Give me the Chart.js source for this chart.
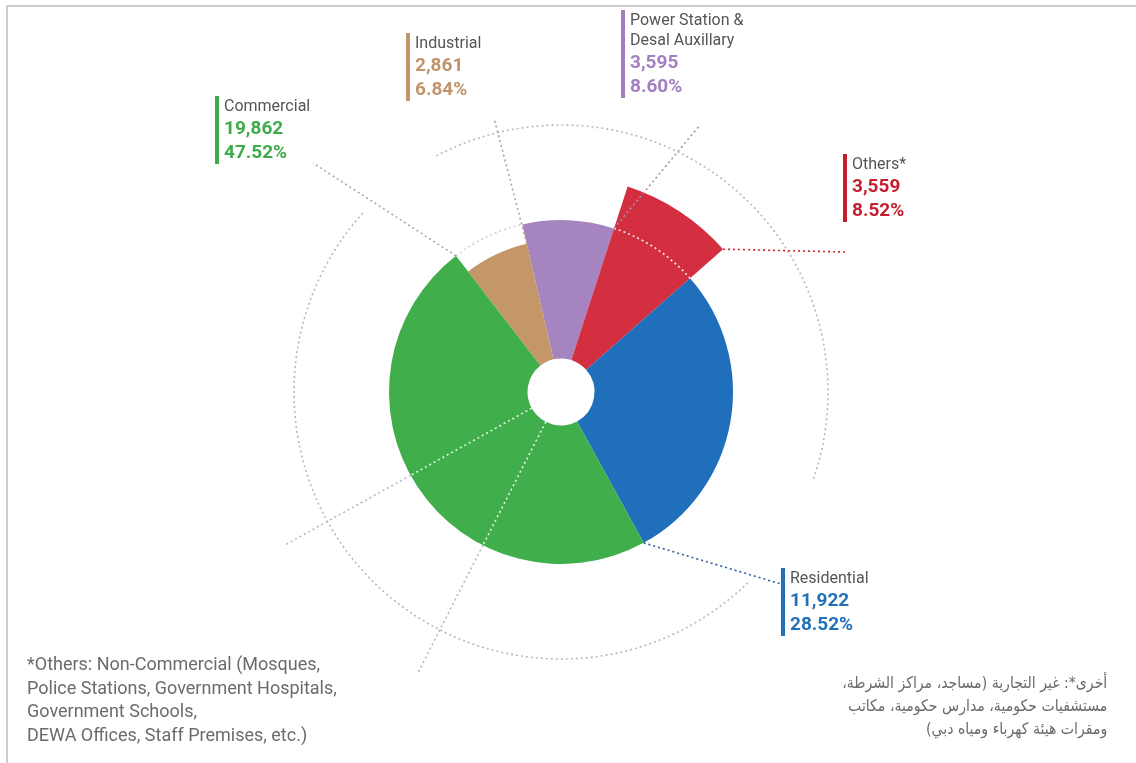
<!DOCTYPE html>
<html>
<head>
<meta charset="utf-8">
<script src="https://cdn.jsdelivr.net/npm/chart.js@4.4.0/dist/chart.umd.min.js"></script>
<style>
  html, body { margin: 0; padding: 0; background: #fff; }
  #wrap { position: relative; width: 1136px; height: 763px; overflow: hidden; }
  #frame { position: absolute; left: 6px; top: 5px; right: -10px; bottom: -10px;
           border-top: 2px solid #cdcdcd; border-left: 2px solid #cdcdcd; }
  canvas { position: absolute; left: 0; top: 0; }
  .lbl { position: absolute; padding-left: 5px; border-left: 4px solid; font-family: Roboto, sans-serif; }
  .lbl .name { font-size: 16px; line-height: 20px; color: #555; white-space: nowrap; }
  .lbl .num { font-size: 19px; line-height: 24px; font-weight: 700; white-space: nowrap; }
  .note-en { position: absolute; left: 27px; top: 652px; font-family: Roboto, sans-serif;
             font-size: 18px; line-height: 23.5px; color: #6b6b6b; }
  .note-ar { position: absolute; right: 29px; top: 671px; font-family: "DejaVu Sans", sans-serif;
             font-size: 16px; line-height: 23px; color: #6b6b6b; text-align: right; direction: rtl;
             transform: scaleX(0.88); transform-origin: right top; }
</style>
</head>
<body>
<div id="wrap">
  <div id="frame"></div>
  <canvas id="chart" width="1136" height="763"></canvas>
  <div id="labels"></div>
  <div class="note-en">*Others: Non-Commercial (Mosques,<br>Police Stations, Government Hospitals,<br>Government Schools,<br>DEWA Offices, Staff Premises, etc.)</div>
  <div class="note-ar" dir="rtl">أخرى*: غير التجارية (مساجد، مراكز الشرطة،<br>مستشفيات حكومية، مدارس حكومية، مكاتب<br>ومقرات هيئة كهرباء ومياه دبي)</div>
</div>
<script>
// ---- data (clockwise from the top) ----
const categories = ['Power Station &\nDesal Auxillary', 'Others*', 'Residential', 'Commercial', 'Industrial'];
const consumption = [3595, 3559, 11922, 19862, 2861];
const shares = [8.60, 8.52, 28.52, 47.52, 6.84];

// ---- styling ----
const sliceColors = ['#a584c0', '#d42f41', '#1f6fba', '#40ae4a', '#c49769'];
const textColors  = ['#a27fc1', '#c41e30', '#2271b8', '#3dac48', '#c0956b'];
const leaderColors = ['#9d93bd', '#c9202f', '#2b5f9e', '#a9a9a9', '#b9a285'];
const sliceReach = [1, 1.256, 1, 1, 0.885];     // outer radius relative to the base ring
const labelBoxes = [[621, 10], [843, 154], [781, 568], [215, 96], [406, 33]];
const leaderEnds = [[700, 125], [845, 252], [781, 584], [313, 163], [494, 118]];

const BASE_R = 172;
const RING_R = 267;
const GRAY = '#b8b8b8';

// labels as html text
const holder = document.getElementById('labels');
categories.forEach((cat, i) => {
  const d = document.createElement('div');
  d.className = 'lbl';
  d.style.left = labelBoxes[i][0] + 'px';
  d.style.top = labelBoxes[i][1] + 'px';
  d.style.borderColor = textColors[i];
  d.innerHTML =
    cat.split('\n').map(s => `<div class="name">${s.replace('&', '&amp;')}</div>`).join('') +
    `<div class="num" style="color:${textColors[i]}">${consumption[i].toLocaleString('en-US')}</div>` +
    `<div class="num" style="color:${textColors[i]}">${shares[i].toFixed(2)}%</div>`;
  holder.appendChild(d);
});

// clock angle (deg, 0 = top, clockwise) -> canvas radians
const rad = deg => (deg - 90) * Math.PI / 180;

function dotted(ctx, color) {
  ctx.setLineDash([2, 3]);
  ctx.lineWidth = 1.6;
  ctx.lineCap = 'butt';
  ctx.strokeStyle = color;
}

// stretch each slice to its own reach
const reachPlugin = {
  id: 'reach',
  afterDatasetsUpdate(chart) {
    chart.getDatasetMeta(0).data.forEach((arc, i) => {
      arc.outerRadius = BASE_R * sliceReach[i];
    });
  }
};

// dotted guide rings, spokes and leader lines
const guidePlugin = {
  id: 'guides',
  afterDatasetsDraw(chart) {
    const ctx = chart.ctx;
    const arcs = chart.getDatasetMeta(0).data;
    const cx = arcs[0].x, cy = arcs[0].y;
    const hole = arcs[0].innerRadius;
    ctx.save();

    // outer ring, broken where two labels sit
    dotted(ctx, GRAY);
    [[-27.8, 109], [135.6, 312.4]].forEach(([a, b]) => {
      ctx.beginPath();
      ctx.arc(cx, cy, RING_R, rad(a), rad(b));
      ctx.stroke();
    });

    // base ring carried across the short and the long slice
    arcs.forEach((arc, i) => {
      if (sliceReach[i] === 1) return;
      dotted(ctx, sliceReach[i] > 1 ? 'rgba(255,255,255,0.9)' : '#d0d0d0');
      ctx.beginPath();
      ctx.arc(cx, cy, BASE_R, arc.startAngle, arc.endAngle);
      ctx.stroke();
    });

    // two spokes through the commercial slice
    [207, 241].forEach(a => {
      const c = Math.cos(rad(a)), s = Math.sin(rad(a));
      dotted(ctx, 'rgba(255,255,255,0.85)');
      ctx.beginPath();
      ctx.moveTo(cx + c * hole, cy + s * hole);
      ctx.lineTo(cx + c * BASE_R, cy + s * BASE_R);
      ctx.stroke();
      dotted(ctx, GRAY);
      ctx.beginPath();
      ctx.moveTo(cx + c * BASE_R, cy + s * BASE_R);
      ctx.lineTo(cx + c * 316, cy + s * 316);
      ctx.stroke();
    });

    // leaders from the closing edge of each slice to its label
    arcs.forEach((arc, i) => {
      const r = arc.outerRadius;
      dotted(ctx, leaderColors[i]);
      ctx.beginPath();
      ctx.moveTo(cx + Math.cos(arc.endAngle) * r, cy + Math.sin(arc.endAngle) * r);
      ctx.lineTo(leaderEnds[i][0], leaderEnds[i][1]);
      ctx.stroke();
    });
    ctx.restore();
  }
};

new Chart(document.getElementById('chart'), {
  type: 'doughnut',
  data: {
    labels: categories,
    datasets: [{
      data: consumption,
      backgroundColor: sliceColors,
      borderWidth: 0
    }]
  },
  options: {
    responsive: false,
    animation: false,
    rotation: -13,
    radius: BASE_R,
    cutout: '19.5%',
    layout: { padding: { left: 0, right: 14, top: 21, bottom: 0 } },
    plugins: { legend: { display: false }, tooltip: { enabled: false } }
  },
  plugins: [reachPlugin, guidePlugin]
});
</script>
</body>
</html>
